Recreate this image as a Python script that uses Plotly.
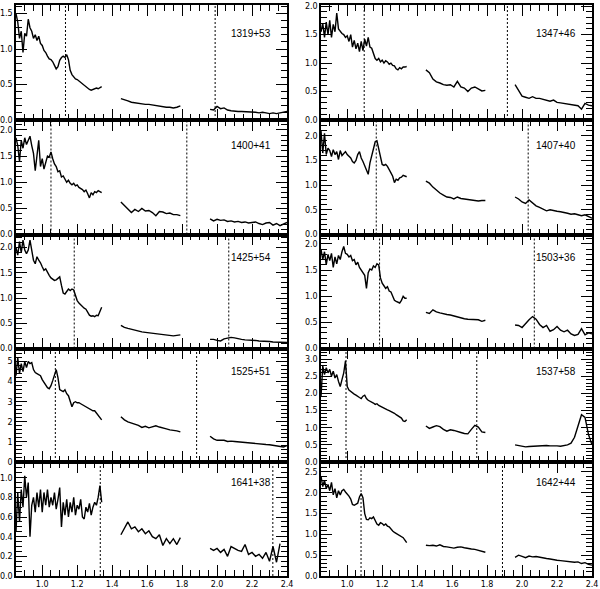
import plotly.graph_objects as go

# wavelength grids (micron) for the three observed windows
W1 = [round(0.85 + 0.01 * i, 2) for i in range(50)]
W2 = [round(1.45 + 0.02 * i, 2) for i in range(18)]
W3 = [round(1.96 + 0.02 * i, 2) for i in range(23)]

# 1319+53
f1319_a = [1.50, 1.38, 1.15, 1.25, 0.95, 1.22, 1.18, 1.42, 1.30, 1.25, 1.15, 1.20, 1.12, 1.18, 1.08, 1.05, 0.98,
           0.95, 0.90, 0.86, 0.85, 0.82, 0.77, 0.72, 0.75, 0.84, 0.88, 0.90, 0.88, 0.92, 0.85, 0.70, 0.64, 0.60,
           0.58, 0.57, 0.55, 0.52, 0.50, 0.48, 0.47, 0.45, 0.43, 0.42, 0.43, 0.44, 0.45, 0.44, 0.45, 0.47]
f1319_b = [0.30, 0.29, 0.27, 0.25, 0.24, 0.23, 0.23, 0.22, 0.22, 0.21, 0.20, 0.19, 0.19, 0.18, 0.18, 0.17, 0.18, 0.20]
f1319_c = [0.15, 0.14, 0.19, 0.16, 0.17, 0.14, 0.13, 0.12, 0.12, 0.12, 0.12, 0.11, 0.11, 0.11, 0.10, 0.11, 0.10,
           0.09, 0.10, 0.09, 0.10, 0.11, 0.12]

# 1347+46
f1347_a = [1.55, 1.70, 1.45, 1.72, 1.50, 1.75, 1.45, 1.68, 1.55, 1.88, 1.60, 1.55, 1.52, 1.50, 1.45, 1.48, 1.38,
           1.50, 1.28, 1.40, 1.25, 1.35, 1.20, 1.38, 1.22, 1.42, 1.30, 1.45, 1.28, 1.26, 1.18, 1.08, 1.05, 1.08,
           1.02, 1.05, 1.00, 1.04, 1.02, 0.98, 1.00, 0.96, 0.95, 0.90, 0.88, 0.92, 0.90, 0.93, 0.93, 0.94]
f1347_b = [0.88, 0.83, 0.72, 0.67, 0.65, 0.62, 0.61, 0.62, 0.58, 0.68, 0.58, 0.56, 0.50, 0.56, 0.58, 0.54, 0.51, 0.52]
f1347_c = [0.62, 0.52, 0.42, 0.40, 0.38, 0.41, 0.38, 0.38, 0.36, 0.35, 0.33, 0.35, 0.31, 0.30, 0.29, 0.27, 0.27,
           0.26, 0.25, 0.19, 0.29, 0.26, 0.25]

# 1400+41
f1400_a = [1.85, 1.70, 1.40, 1.80, 1.65, 1.85, 1.72, 1.80, 1.88, 1.70, 1.55, 1.22, 1.50, 1.80, 1.30, 1.45, 1.25,
           1.40, 1.50, 1.48, 1.58, 1.45, 1.35, 1.30, 1.20, 1.22, 1.10, 1.12, 1.05, 1.00, 1.04, 0.98, 0.95, 0.98,
           0.93, 0.95, 0.90, 0.88, 0.86, 0.82, 0.85, 0.78, 0.70, 0.80, 0.76, 0.82, 0.80, 0.84, 0.82, 0.80]
f1400_b = [0.62, 0.55, 0.50, 0.42, 0.48, 0.44, 0.50, 0.45, 0.46, 0.42, 0.36, 0.44, 0.43, 0.40, 0.41, 0.38, 0.38, 0.36]
f1400_c = [0.30, 0.26, 0.29, 0.27, 0.28, 0.25, 0.26, 0.24, 0.25, 0.23, 0.24, 0.22, 0.23, 0.24, 0.21, 0.19, 0.22,
           0.23, 0.18, 0.21, 0.17, 0.20, 0.23]

# 1407+40
f1407_a = [2.10, 1.65, 2.05, 1.62, 1.75, 1.70, 1.58, 1.72, 1.62, 1.68, 1.52, 1.70, 1.60, 1.65, 1.68, 1.62, 1.58,
           1.55, 1.48, 1.45, 1.50, 1.62, 1.68, 1.55, 1.48, 1.40, 1.30, 1.22, 1.45, 1.60, 1.75, 1.88, 1.90, 1.72,
           1.55, 1.42, 1.40, 1.42, 1.38, 1.30, 1.25, 1.18, 1.05, 1.12, 1.10, 1.15, 1.16, 1.20, 1.18, 1.17]
f1407_b = [1.08, 1.04, 0.96, 0.90, 0.84, 0.80, 0.76, 0.75, 0.72, 0.76, 0.73, 0.72, 0.71, 0.70, 0.70, 0.68, 0.69, 0.69]
f1407_c = [0.76, 0.72, 0.66, 0.63, 0.70, 0.64, 0.58, 0.55, 0.52, 0.48, 0.50, 0.48, 0.47, 0.46, 0.45, 0.43, 0.41,
           0.42, 0.40, 0.38, 0.40, 0.36, 0.33]

# 1425+54
f1425_a = [2.00, 1.85, 2.12, 1.90, 2.15, 1.95, 1.88, 1.95, 2.15, 1.90, 1.75, 1.68, 1.82, 1.75, 1.70, 1.62, 1.55,
           1.58, 1.50, 1.45, 1.40, 1.38, 1.35, 1.36, 1.40, 1.42, 1.25, 1.10, 1.08, 1.12, 1.18, 1.15, 1.18, 1.16,
           1.05, 0.95, 0.90, 0.86, 0.83, 0.80, 0.78, 0.72, 0.66, 0.64, 0.65, 0.63, 0.66, 0.65, 0.72, 0.82]
f1425_b = [0.46, 0.42, 0.40, 0.38, 0.36, 0.34, 0.33, 0.32, 0.31, 0.30, 0.29, 0.28, 0.27, 0.26, 0.26, 0.25, 0.26, 0.27]
f1425_c = [0.18, 0.18, 0.16, 0.15, 0.19, 0.21, 0.22, 0.21, 0.19, 0.18, 0.17, 0.17, 0.16, 0.16, 0.15, 0.15, 0.14,
           0.14, 0.13, 0.13, 0.13, 0.12, 0.12]

# 1503+36
f1503_a = [1.90, 1.70, 1.85, 1.60, 1.80, 1.68, 1.82, 1.55, 1.75, 1.62, 1.78, 1.70, 1.85, 1.95, 1.82, 1.80, 1.75,
           1.78, 1.68, 1.70, 1.60, 1.65, 1.55, 1.50, 1.45, 1.40, 1.15, 1.45, 1.52, 1.50, 1.58, 1.55, 1.62, 1.60,
           1.35, 1.25, 1.20, 1.15, 1.18, 1.10, 1.08, 1.00, 0.92, 0.90, 0.88, 0.87, 0.92, 1.00, 0.96, 0.96]
f1503_b = [0.69, 0.67, 0.74, 0.70, 0.68, 0.66, 0.65, 0.64, 0.62, 0.60, 0.59, 0.57, 0.56, 0.56, 0.55, 0.55, 0.52, 0.54]
f1503_c = [0.45, 0.44, 0.40, 0.48, 0.55, 0.61, 0.56, 0.46, 0.40, 0.44, 0.33, 0.36, 0.42, 0.35, 0.32, 0.35, 0.28,
           0.25, 0.27, 0.38, 0.26, 0.30, 0.28]

# 1525+51
f1525_a = [4.30, 5.20, 4.40, 4.90, 4.50, 5.00, 4.70, 5.00, 4.90, 4.95, 4.60, 4.45, 4.40, 4.35, 4.30, 4.10, 3.95,
           3.80, 3.70, 3.65, 3.80, 4.05, 4.40, 4.60, 4.20, 3.60, 3.55, 3.50, 3.60, 3.40, 3.30, 3.05, 2.75, 2.95,
           3.00, 2.95, 2.95, 2.90, 2.85, 2.80, 2.75, 2.70, 2.65, 2.60, 2.55, 2.55, 2.45, 2.35, 2.20, 2.10]
f1525_b = [2.25, 2.10, 2.00, 1.95, 1.90, 1.82, 1.72, 1.78, 1.70, 1.75, 1.80, 1.74, 1.68, 1.65, 1.60, 1.58, 1.55, 1.50]
f1525_c = [1.28, 1.15, 1.08, 1.07, 1.08, 1.02, 1.04, 1.02, 1.00, 0.98, 0.97, 0.95, 0.93, 0.92, 0.90, 0.88, 0.87,
           0.86, 0.84, 0.80, 0.78, 0.75, 0.82]

# 1537+58
f1537_a = [1.90, 2.80, 2.55, 2.75, 2.60, 2.70, 2.50, 2.65, 2.45, 2.55, 2.35, 2.20, 2.40, 2.60, 2.95, 2.20, 2.10,
           2.05, 2.02, 1.98, 1.95, 1.90, 1.88, 1.85, 1.92, 1.95, 1.85, 1.80, 1.78, 1.75, 1.72, 1.68, 1.70, 1.65,
           1.62, 1.60, 1.58, 1.55, 1.52, 1.50, 1.48, 1.45, 1.42, 1.38, 1.35, 1.32, 1.28, 1.20, 1.18, 1.23]
f1537_b = [1.05, 0.98, 1.02, 1.06, 1.03, 0.95, 0.90, 0.94, 0.92, 0.88, 0.86, 0.83, 0.82, 0.95, 1.07, 1.02, 0.88, 0.86]
f1537_c = [0.50, 0.48, 0.44, 0.44, 0.45, 0.46, 0.46, 0.47, 0.47, 0.48, 0.47, 0.48, 0.47, 0.46, 0.47, 0.50, 0.55,
           0.72, 1.05, 1.38, 1.30, 0.80, 0.50]

# 1641+38
f1641_a = [0.45, 0.85, 0.55, 0.88, 0.70, 1.02, 0.80, 0.95, 0.40, 0.72, 0.80, 0.65, 0.85, 0.70, 0.88, 0.65, 0.85,
           0.72, 0.88, 0.70, 0.80, 0.72, 0.85, 0.68, 0.78, 0.90, 0.50, 0.75, 0.62, 0.78, 0.60, 0.75, 0.65, 0.80,
           0.62, 0.72, 0.68, 0.78, 0.60, 0.58, 0.70, 0.65, 0.74, 0.62, 0.70, 0.75, 0.72, 0.80, 0.92, 0.75]
f1641_b = [0.42, 0.48, 0.55, 0.48, 0.50, 0.45, 0.48, 0.43, 0.46, 0.40, 0.38, 0.42, 0.31, 0.38, 0.33, 0.38, 0.32, 0.39]
f1641_c = [0.28, 0.26, 0.28, 0.24, 0.27, 0.20, 0.30, 0.28, 0.26, 0.25, 0.32, 0.22, 0.24, 0.20, 0.22, 0.18, 0.24,
           0.15, 0.30, 0.14, 0.33]

# 1642+44
f1642_a = [2.40, 2.15, 2.30, 2.10, 2.20, 2.05, 2.25, 1.95, 2.10, 1.88, 2.05, 1.95, 2.05, 2.08, 2.02, 1.98, 1.92,
           1.85, 1.72, 1.70, 1.72, 1.75, 1.90, 1.98, 1.88, 1.50, 1.36, 1.35, 1.40, 1.38, 1.42, 1.35, 1.25, 1.22,
           1.28, 1.26, 1.22, 1.25, 1.20, 1.18, 1.12, 1.08, 1.05, 1.02, 1.00, 0.98, 0.95, 0.92, 0.86, 0.80]
f1642_b = [0.74, 0.73, 0.74, 0.72, 0.75, 0.71, 0.70, 0.68, 0.67, 0.69, 0.70, 0.68, 0.66, 0.65, 0.64, 0.62, 0.60, 0.57]
f1642_c = [0.45, 0.50, 0.47, 0.44, 0.48, 0.46, 0.47, 0.45, 0.44, 0.42, 0.41, 0.39, 0.38, 0.37, 0.36, 0.35, 0.34,
           0.33, 0.34, 0.30, 0.32, 0.28, 0.26]

names = ['1319+53', '1347+46', '1400+41', '1407+40', '1425+54',
         '1503+36', '1525+51', '1537+58', '1641+38', '1642+44']
spectra = [(f1319_a, f1319_b, f1319_c), (f1347_a, f1347_b, f1347_c),
           (f1400_a, f1400_b, f1400_c), (f1407_a, f1407_b, f1407_c),
           (f1425_a, f1425_b, f1425_c), (f1503_a, f1503_b, f1503_c),
           (f1525_a, f1525_b, f1525_c), (f1537_a, f1537_b, f1537_c),
           (f1641_a, f1641_b, f1641_c), (f1642_a, f1642_b, f1642_c)]
# dashed marker wavelengths
line_pos = [[1.133, 1.989], [1.097, 1.916], [1.050, 1.827], [1.166, 2.035], [1.183, 2.067],
            [1.185, 2.070], [1.075, 1.883], [0.993, 1.741], [1.332, 2.319], [1.079, 1.888]]

# axis settings per panel: (ymax, major, minor, format)
y_axes = [(1.62, 0.5, 0.1, '.1f'), (2.02, 0.5, 0.1, '.1f'),
          (2.19, 0.5, 0.1, '.1f'), (2.32, 0.5, 0.1, '.1f'),
          (2.26, 0.5, 0.1, '.1f'), (2.18, 0.5, 0.1, '.1f'),
          (5.65, 1, 0.2, 'd'), (3.31, 0.5, 0.1, '.1f'),
          (1.16, 0.2, 0.05, '.1f'), (2.74, 0.5, 0.1, '.1f')]
label_dy = [28, 28, 26, 26, 23, 23, 23, 23, 21, 21]

W, H = 600, 589
row_px = [5, 120, 234.5, 348.5, 462, 576]
col_px = [(16, 287), (321, 592)]

fig = go.Figure()
tick_font = dict(family='DejaVu Sans', size=8, color='black')

for i, name in enumerate(names):
    k = i + 1
    s = '' if k == 1 else str(k)
    row, col = i // 2, i % 2
    a, b, c = spectra[i]
    xs = W1[:len(a)] + [None] + W2[:len(b)] + [None] + W3[:len(c)]
    ys = a + [None] + b + [None] + c
    fig.add_trace(go.Scatter(x=xs, y=ys, mode='lines', line=dict(color='black', width=1.4),
                             connectgaps=False, showlegend=False, xaxis='x' + s, yaxis='y' + s))

    ymax, major, minor, fmt = y_axes[i]
    x0, x1 = col_px[col]
    fig.layout['xaxis' + s] = dict(
        domain=[x0 / W, x1 / W], anchor='y' + s, range=[0.85, 2.4], automargin=False,
        showline=True, linecolor='black', linewidth=1.5, mirror='allticks',
        ticks='inside', ticklen=11, tickwidth=1.3, tickcolor='black',
        tick0=0, dtick=0.2, tickformat='.1f', showgrid=False, zeroline=False,
        showticklabels=(row == 4), tickfont=tick_font,
        minor=dict(ticks='inside', ticklen=6, tickwidth=1.1, tickcolor='black', dtick=0.05, tick0=0, showgrid=False),
    )
    fig.layout['yaxis' + s] = dict(
        domain=[1 - row_px[row + 1] / H, 1 - row_px[row] / H], anchor='x' + s, range=[0, ymax],
        automargin=False,
        showline=True, linecolor='black', linewidth=1.5, mirror='allticks',
        ticks='inside', ticklen=11, tickwidth=1.3, tickcolor='black',
        tick0=0, dtick=major, tickformat=fmt, showgrid=False, zeroline=False,
        tickfont=tick_font,
        minor=dict(ticks='inside', ticklen=6, tickwidth=1.1, tickcolor='black', dtick=minor, tick0=0, showgrid=False),
    )

    for lx in line_pos[i]:
        fig.add_shape(type='line', xref='x' + s, yref='y' + s + ' domain', x0=lx, x1=lx, y0=0, y1=1,
                      line=dict(color='black', width=1, dash='2px,2px'))

    fig.add_annotation(text=name, xref='x' + s + ' domain', yref='y' + s + ' domain',
                       x=1 - 36 / 271, y=1 - label_dy[i] / 115, xanchor='center', yanchor='middle',
                       showarrow=False, font=dict(family='Liberation Sans', size=10, color='black'))

fig.update_layout(width=W, height=H, margin=dict(l=0, r=0, t=0, b=0),
                  plot_bgcolor='white', paper_bgcolor='white')

# drop the browser's default page margin so the figure sits at the window origin
fig.write_html("out.html", config={'displayModeBar': False},
               post_script="document.body.style.margin = '0';")
